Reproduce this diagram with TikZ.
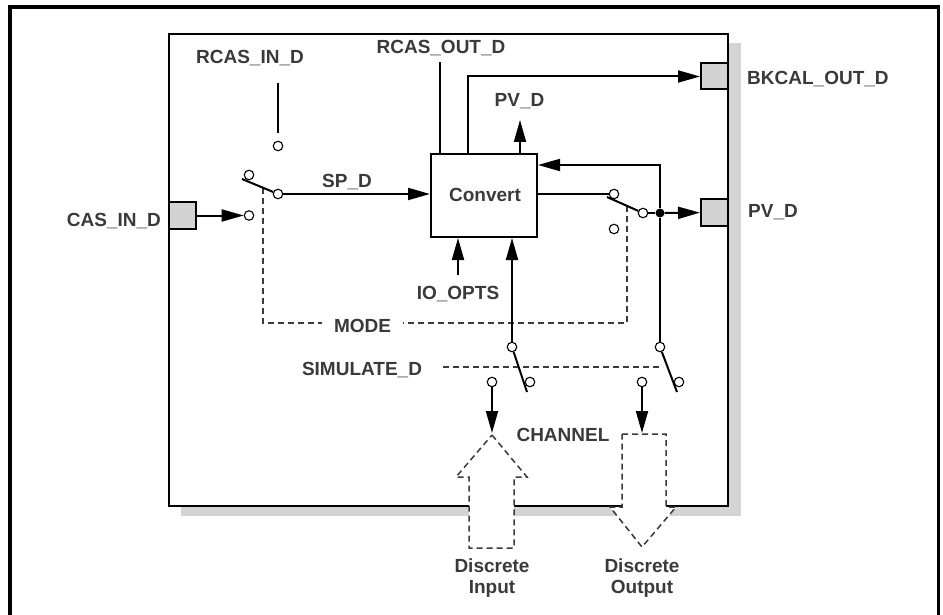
\documentclass[tikz,border=0pt]{standalone}
\usepackage{fontspec}
\setmainfont{Liberation Sans}
\usetikzlibrary{arrows.meta,calc}
\definecolor{txt}{HTML}{3A3A3A}
\definecolor{shadowgrey}{HTML}{D4D4D4}
\definecolor{portfill}{HTML}{D3D3D3}
\begin{document}
\begin{tikzpicture}[x=1pt,y=-1pt,
  lbl/.style={text=txt,font=\fontsize{19}{21}\selectfont\bfseries,inner sep=0pt,anchor=base},
  sig/.style={line width=2pt,draw=black},
  arr/.style={sig,-{Triangle[length=22pt,width=12pt]}},
  term/.style={circle,draw=black,line width=1.1pt,fill=white,minimum size=9.5pt,inner sep=0pt},
  jdot/.style={circle,fill=black,minimum size=9pt,inner sep=0pt},
  dsh/.style={line width=1.5pt,draw=txt,dash pattern=on 6pt off 4pt},
  port/.style={draw=black,line width=2pt,fill=portfill,inner sep=0pt,minimum width=27pt,minimum height=26pt}
]
\useasboundingbox (0,0) rectangle (943,615);
% outer frame
\draw[line width=3.5pt] (10,620) -- (10,7) -- (938.5,7) -- (938.5,620);
% block with shadow
\fill[fill=shadowgrey] (181,43) rectangle (741,516);
\draw[line width=2.2pt,fill=white] (169,34) rectangle (728,506);

% dashed channel arrows
\draw[dsh,fill=white] (492,435) -- (527,477) -- (514,477) -- (514,548) -- (469,548) -- (469,477) -- (456,477) -- cycle;
\draw[dsh,fill=white] (622,434) -- (666,434) -- (666,507) -- (676,507) -- (642,547) -- (610,507) -- (622,507) -- cycle;

% ports
\node[port] (casp) at (182.5,215.5) {};
\node[port] (bkp) at (714.5,76.5) {};
\node[port] (pvp) at (714.5,212.5) {};

% convert block
\node[draw=black,line width=2pt,minimum width=106pt,minimum height=83pt,inner sep=0pt,fill=white] (conv) at (484,195.5) {};
\node[lbl] (convtxt) at (485,201.5) {Convert};

% mode dashed line
\coordinate (m1) at (263,188);
\coordinate (m2) at (263,323);
\coordinate (m3) at (627,323);
\coordinate (m4) at (627,206);
\draw[dsh] (m1) -- (m2) -- (m3) -- (m4);
\node[lbl,fill=white,inner xsep=12pt,inner ysep=1pt] (mode) at (362.5,332.5) {MODE};

% simulate dashed line
\coordinate (sd1) at (443,367);
\coordinate (sd2) at (663,367);
\draw[dsh] (sd1) -- (sd2);

% left (cascade) switch
\node[term] (c1) at (249,215.5) {};
\node[term] (c2) at (249,175) {};
\node[term] (p1) at (278,194) {};
\node[term] (cr) at (278,146) {};
\coordinate (b1) at (242,179);
\coordinate (rin) at (278,83);
\draw[sig] (rin) -- (rin |- 0,133);
\draw[sig] (b1) -- (p1);
\draw[arr] (casp) -- (c1);
\draw[arr] (p1) -- (p1 -| conv.west);

% top connections
\coordinate (ro) at (440,62);
\draw[sig] (ro) -- (ro |- conv.north);
\coordinate (bk1) at (468,76.5);
\draw[arr] (bk1 |- conv.north) -- (bk1) -- (bkp);
\coordinate (pv1) at (520,120);
\draw[arr] (pv1 |- conv.north) -- (pv1);

% output switch
\node[term] (c3) at (614,194) {};
\node[term] (c4) at (614,229) {};
\node[term] (p2) at (643,213) {};
\coordinate (b2) at (607,197);
\node[jdot] (j) at (660,213) {};
\draw[sig] (conv.east |- c3) -- (c3);
\draw[sig] (b2) -- (p2);
\draw[sig] (p2) -- (j);
\draw[arr] (j) -- (pvp);
\coordinate (fb) at (660,165);
\draw[arr] (j) -- (fb) -- (fb -| conv.east);

% IO_OPTS
\coordinate (io) at (458,275);
\draw[arr] (io) -- (io |- conv.south);

% lower left simulate switch
\node[term] (s1t) at (512,347) {};
\node[term] (s1r) at (530,382) {};
\node[term] (s1l) at (492,382) {};
\coordinate (s1b) at (527,392);
\coordinate (ia) at (492,433);
\draw[arr] (s1t) -- (s1t |- conv.south);
\draw[sig] (s1t) -- (s1b);
\draw[arr] (s1l) -- (ia);

% lower right simulate switch
\node[term] (s2t) at (660,347) {};
\node[term] (s2r) at (679,382) {};
\node[term] (s2l) at (642,382) {};
\coordinate (s2b) at (677,392);
\coordinate (oa) at (642,433);
\draw[sig] (j) -- (s2t);
\draw[sig] (s2t) -- (s2b);
\draw[arr] (s2l) -- (oa);

% labels
\node[lbl,anchor=base east] (lcas) at (161,226) {CAS\_IN\_D};
\node[lbl] (lrin) at (250,63.5) {RCAS\_IN\_D};
\node[lbl] (lrout) at (441,53.5) {RCAS\_OUT\_D};
\node[lbl] (lsp) at (347,187.5) {SP\_D};
\node[lbl] (lpvt) at (519.5,106.5) {PV\_D};
\node[lbl,anchor=base west] (lbk) at (747,85) {BKCAL\_OUT\_D};
\node[lbl,anchor=base west] (lpvr) at (748,217) {PV\_D};
\node[lbl] (lio) at (458,299) {IO\_OPTS};
\node[lbl] (lsim) at (362,375.5) {SIMULATE\_D};
\node[lbl] (lch) at (563,441.5) {CHANNEL};
\node[lbl] (ldi1) at (492,572) {Discrete};
\node[lbl] (ldi2) at (492,593) {Input};
\node[lbl] (ldo1) at (642,572) {Discrete};
\node[lbl] (ldo2) at (642,593) {Output};
\end{tikzpicture}
\end{document}
